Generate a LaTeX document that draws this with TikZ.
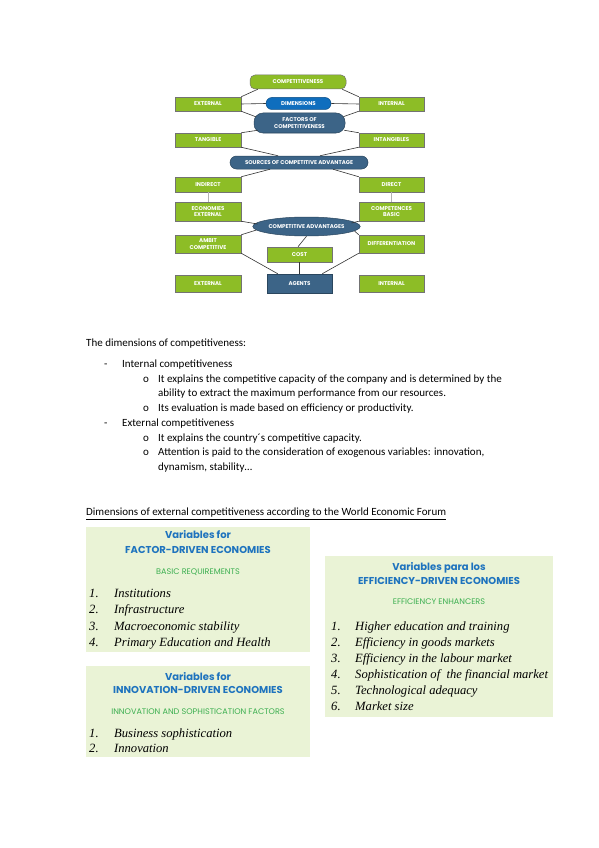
\documentclass[tikz,border=0pt]{standalone}
\usepackage{fontspec}
\setmainfont{Carlito}
\newfontfamily\diagfont{Poppins}
\newfontfamily\headfont{Poppins}
\newfontfamily\listfont{Liberation Serif}
\usetikzlibrary{calc,shapes.geometric}
\definecolor{ggreen}{RGB}{141,189,38}
\definecolor{dblue}{RGB}{60,100,135}
\definecolor{bblue}{RGB}{15,110,190}
\definecolor{pfill}{RGB}{234,243,214}
\definecolor{hblue}{RGB}{30,115,190}
\definecolor{hgreen}{RGB}{60,175,80}
\tikzset{
  box/.style={line width=0.5pt, text=white, align=center, inner sep=0pt,
    font=\diagfont\bfseries\fontsize{5.5}{6.3}\selectfont},
  gbox/.style={box, draw=black!55, fill=ggreen, minimum width=66, minimum height=14},
  dbox/.style={box, draw=dblue!70!black, fill=dblue},
  conn/.style={draw=black!80, line width=0.6pt},
  lconn/.style={draw=black!30, line width=0.6pt},
  txt/.style={anchor=base west, inner sep=0pt, font=\fontsize{11}{13}\selectfont},
  panel/.style={fill=pfill, draw=none},
  ph1/.style={anchor=base, inner sep=0pt, text=hblue, font=\headfont\bfseries\fontsize{10}{12}\selectfont},
  ph2/.style={anchor=base, inner sep=0pt, text=hgreen, font=\headfont\fontsize{8.1}{9}\selectfont},
  li/.style={anchor=base west, inner sep=0pt, font=\listfont\itshape\fontsize{12.6}{14}\selectfont},
}
\begin{document}
\begin{tikzpicture}[x=1pt,y=-1pt]
\useasboundingbox[fill=white] (0,0) rectangle (599,848);

% ---------- diagram ----------
\node[gbox, minimum width=96, rounded corners=5] (comp) at (298,82) {COMPETITIVENESS};
\node[gbox] (ext1) at (208,104) {EXTERNAL};
\node[gbox, minimum width=65] (int1) at (391.5,104) {INTERNAL};
\node[box, draw=bblue!70!black, fill=bblue, minimum width=65, minimum height=12, rounded corners=6] (dim) at (298.5,103.5) {DIMENSIONS};
\node[dbox, minimum width=91, minimum height=20, rounded corners=9] (fac) at (299.5,123) {FACTORS OF\\COMPETITIVENESS};
\node[gbox] (tan) at (208,140) {TANGIBLE};
\node[gbox, minimum width=65] (intan) at (391.5,140) {INTANGIBLES};
\node[dbox, minimum width=138, minimum height=13, rounded corners=6.5] (src) at (299,162.5) {SOURCES OF COMPETITIVE ADVANTAGE};
\node[gbox, minimum height=15] (ind) at (208,184.5) {INDIRECT};
\node[gbox, minimum width=65, minimum height=15] (dir) at (391.5,184.5) {DIRECT};
\node[gbox, minimum height=19] (eco) at (208,211.5) {ECONOMIES\\EXTERNAL};
\node[gbox, minimum width=65, minimum height=19] (cmp) at (391.5,211.5) {COMPETENCES\\BASIC};
\node[dbox, ellipse, minimum width=99, minimum height=19, inner sep=0pt] (cadv) at (306.5,226.5) {COMPETITIVE ADVANTAGES};
\node[gbox, minimum height=18] (amb) at (208,244) {AMBIT\\COMPETITIVE};
\node[gbox, minimum width=65, minimum height=18] (dif) at (391.5,244) {DIFFERENTIATION};
\node[gbox, minimum width=65, minimum height=15] (cost) at (299.5,254.5) {COST};
\node[dbox, minimum width=65, minimum height=19] (agents) at (299.5,283.5) {AGENTS};
\node[gbox, minimum height=17] (ext2) at (208,284) {EXTERNAL};
\node[gbox, minimum width=65, minimum height=17] (int2) at (391.5,284) {INTERNAL};

\draw[conn] (ext1.north east) -- ($(comp.south west)+(8,0)$);
\draw[conn] (int1.north west) -- ($(comp.south east)+(-4,0)$);
\draw[conn] (ext1.east) -- (dim.west);
\draw[conn] (dim.east) -- (int1.west);
\draw[conn] (ext1.south east) -- ($(fac.north west)+(2,4)$);
\draw[conn] (int1.south west) -- ($(fac.north east)+(-2,4)$);
\draw[conn] (tan.north east) -- ($(fac.south west)+(4,-3)$);
\draw[conn] (intan.north west) -- ($(fac.south east)+(-1,-3)$);
\draw[conn] (tan.south east) -- ($(src.north)+(-21,0)$);
\draw[conn] (intan.south west) -- ($(src.north)+(21,0)$);
\draw[conn] (ind.north east) -- ($(src.south)+(-29,0)$);
\draw[conn] (dir.north west) -- ($(src.south)+(34,0)$);
\draw[lconn] (ind.south) -- (eco.north);
\draw[lconn] (dir.south) -- (cmp.north);
\draw[conn] (eco.south east) -- ($(cadv.west)+(5,-2.5)$);
\draw[conn] (cmp.south west) -- ($(cadv.east)+(-9,-3.5)$);
\draw[conn] (amb.north east) -- ($(cadv.west)+(4,3.5)$);
\draw[conn] (dif.north west) -- ($(cadv.east)+(-6,4.5)$);
\draw[conn] (cadv.south) -- ($(cost.north)+(-1.5,0)$);
\draw[conn] (cost.south) -- (agents.north);
\draw[conn] (amb.south east) -- ($(agents.north west)+(11,0)$);
\draw[conn] (dif.south west) -- ($(agents.north east)+(-10,0)$);

% ---------- text ----------
\node[txt] (t0) at (86,346) {The dimensions of competitiveness:};
\node[txt] (d1) at (104,367.5) {-};
\node[txt] (t1) at (122,367.5) {Internal competitiveness};
\node[txt] (o1) at (143,382.2) {o};
\node[txt] (t2) at (158,382.2) {It explains the competitive capacity of the company and is determined by the};
\node[txt] (t3) at (158,396.9) {ability to extract the maximum performance from our resources.};
\node[txt] (o2) at (143,411.6) {o};
\node[txt] (t4) at (158,411.6) {Its evaluation is made based on efficiency or productivity.};
\node[txt] (d2) at (104,426.3) {-};
\node[txt] (t5) at (122,426.3) {External competitiveness};
\node[txt] (o3) at (143,441) {o};
\node[txt] (t6) at (158,441) {It explains the country´s competitive capacity.};
\node[txt] (o4) at (143,455.7) {o};
\node[txt] (t7) at (158,455.7) {Attention is paid to the consideration of exogenous variables: innovation,};
\node[txt] (t8) at (158,470.4) {dynamism, stability…};

\node[txt] (h0) at (86,515.5) {\underline{Dimensions of external competitiveness according to the World Economic Forum}};

% ---------- panel 1 ----------
\fill[panel] (86,527) rectangle (310,652);
\node[ph1] (p1a) at (198,538.5) {Variables for};
\node[ph1] (p1b) at (198,553) {FACTOR-DRIVEN ECONOMIES};
\node[ph2] (p1c) at (198,574.5) {BASIC REQUIREMENTS};
\node[li] (p1n1) at (89,597) {1.};
\node[li] (p1l1) at (114,597) {Institutions};
\node[li] (p1n2) at (89,613.5) {2.};
\node[li] (p1l2) at (114,613.5) {Infrastructure};
\node[li] (p1n3) at (89,630) {3.};
\node[li] (p1l3) at (114,630) {Macroeconomic stability};
\node[li] (p1n4) at (89,646.5) {4.};
\node[li] (p1l4) at (114,646.5) {Primary Education and Health};

% ---------- panel 2 ----------
\fill[panel] (86,666) rectangle (310,757);
\node[ph1] (p2a) at (198,680) {Variables for};
\node[ph1] (p2b) at (198,693) {INNOVATION-DRIVEN ECONOMIES};
\node[ph2] (p2c) at (198,714.5) {INNOVATION AND SOPHISTICATION FACTORS};
\node[li] (p2n1) at (89,737) {1.};
\node[li] (p2l1) at (114,737) {Business sophistication};
\node[li] (p2n2) at (89,752) {2.};
\node[li] (p2l2) at (114,752) {Innovation};

% ---------- panel 3 ----------
\fill[panel] (325,556) rectangle (553,717);
\node[ph1] (p3a) at (439,570) {Variables para los};
\node[ph1] (p3b) at (439,584) {EFFICIENCY-DRIVEN ECONOMIES};
\node[ph2] (p3c) at (439,604.5) {EFFICIENCY ENHANCERS};
\node[li] (p3n1) at (331,630) {1.};
\node[li] (p3l1) at (355,630) {Higher education and training};
\node[li] (p3n2) at (331,646) {2.};
\node[li] (p3l2) at (355,646) {Efficiency in goods markets};
\node[li] (p3n3) at (331,662) {3.};
\node[li] (p3l3) at (355,662) {Efficiency in the labour market};
\node[li] (p3n4) at (331,678) {4.};
\node[li] (p3l4) at (355,678) {Sophistication of\ \ the financial market};
\node[li] (p3n5) at (331,694) {5.};
\node[li] (p3l5) at (355,694) {Technological adequacy};
\node[li] (p3n6) at (331,710) {6.};
\node[li] (p3l6) at (355,710) {Market size};
\end{tikzpicture}
\end{document}
